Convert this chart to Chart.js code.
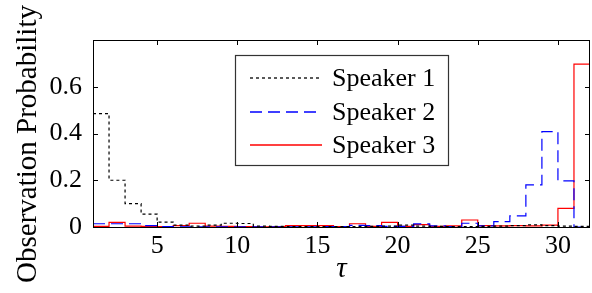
<!DOCTYPE html>
<html lang="en">
<head>
    <meta charset="UTF-8" />
    <title>Observation Probability</title>
    <script src="https://cdn.jsdelivr.net/npm/chart.js"></script>
    <style>
        body { margin: 0; background: #fff; }
        canvas { display: block; }
    </style>
</head>
<body>
    <canvas id="probChart" width="592" height="293"></canvas>

    <script>
        // tau values (bin starts), last entry closes the final step
        const tau = [1, 2, 3, 4, 5, 6, 7, 8, 9, 10, 11, 12, 13, 14, 15, 16,
                     17, 18, 19, 20, 21, 22, 23, 24, 25, 26, 27, 28, 29, 30, 31, 32];
        const speaker1 = [0.485, 0.200, 0.100, 0.055, 0.021, 0.008, 0.004, 0.008, 0.016, 0.015, 0.004,
                          0.003, 0.002, 0.002, 0.002, 0.002, 0.002, 0.003, 0.004, 0.008, 0.004,
                          0.003, 0.002, 0.002, 0.003, 0.004, 0.006, 0.009, 0.006, 0.004, 0.003, 0.003];
        const speaker2 = [0.014, 0.014, 0.014, 0.006, 0.002, 0.001, 0.001, 0.001, 0.001, 0.001, 0.001,
                          0.001, 0.001, 0.001, 0.002, 0.002, 0.007, 0.006, 0.003, 0.003, 0.013,
                          0.005, 0.002, 0.016, 0.005, 0.023, 0.048, 0.180, 0.408, 0.197, 0.000, 0.000];
        const speaker3 = [0.003, 0.020, 0.004, 0.003, 0.002, 0.006, 0.016, 0.004, 0.003, 0.002, 0.001,
                          0.002, 0.006, 0.006, 0.006, 0.002, 0.014, 0.003, 0.020, 0.003, 0.010,
                          0.003, 0.005, 0.030, 0.006, 0.005, 0.006, 0.005, 0.008, 0.080, 0.697, 0.697];
        const seriesNames = ['Speaker 1', 'Speaker 2', 'Speaker 3'];
        const xTicks = [5, 10, 15, 20, 25, 30];
        const yTicks = [0, 0.2, 0.4, 0.6];

        const colors = ['#000000', '#0000ff', '#ff0000'];
        const dashes = [[3, 3], [12, 6], []];
        const serif = '"Liberation Serif", "Times New Roman", Times, serif';

        function toPoints(values) {
            return tau.map((t, i) => ({ x: t, y: values[i] }));
        }

        // MATLAB-like frame with inward ticks on all four sides + y label
        const framePlugin = {
            id: 'frame',
            afterDatasetsDraw(chart) {
                const { ctx, chartArea: a, scales } = chart;
                const len = 5;
                ctx.save();
                ctx.strokeStyle = '#000';
                ctx.lineWidth = 1;
                ctx.beginPath();
                xTicks.forEach(v => {
                    const px = Math.round(scales.x.getPixelForValue(v)) + 0.5;
                    ctx.moveTo(px, a.bottom); ctx.lineTo(px, a.bottom - len);
                    ctx.moveTo(px, a.top); ctx.lineTo(px, a.top + len);
                });
                yTicks.forEach(v => {
                    const py = Math.round(scales.y.getPixelForValue(v)) + 0.5;
                    ctx.moveTo(a.left, py); ctx.lineTo(a.left + len, py);
                    ctx.moveTo(a.right, py); ctx.lineTo(a.right - len, py);
                });
                ctx.stroke();
                ctx.strokeRect(Math.round(a.left) + 0.5, Math.round(a.top) + 0.5,
                               Math.round(a.right - a.left) - 1, Math.round(a.bottom - a.top));

                // y axis label, a bit below the plot centre like the original
                ctx.translate(28, 144);
                ctx.rotate(-Math.PI / 2);
                ctx.font = '29px ' + serif;
                ctx.fillStyle = '#000';
                ctx.textAlign = 'center';
                ctx.textBaseline = 'middle';
                ctx.fillText('Observation Probability', 0, 0);
                ctx.restore();
            }
        };

        // boxed legend inside the plot
        const boxLegend = {
            id: 'boxLegend',
            afterDraw(chart) {
                const { ctx, chartArea: a } = chart;
                const bx = a.left + 142, by = a.top + 15, bw = 213, bh = 110;
                ctx.save();
                ctx.fillStyle = '#fff';
                ctx.fillRect(bx, by, bw, bh);
                ctx.strokeStyle = '#333';
                ctx.lineWidth = 1.2;
                ctx.strokeRect(bx + 0.5, by + 0.5, bw, bh);
                ctx.font = '26px ' + serif;
                ctx.textBaseline = 'middle';
                ctx.lineWidth = 1.3;
                seriesNames.forEach((name, i) => {
                    const y = Math.round(by + 23 + i * 33.5);
                    ctx.setLineDash(dashes[i]);
                    ctx.strokeStyle = colors[i];
                    ctx.beginPath();
                    ctx.moveTo(bx + 15, y);
                    ctx.lineTo(bx + 87, y);
                    ctx.stroke();
                    ctx.setLineDash([]);
                    ctx.fillStyle = '#000';
                    ctx.fillText(name, bx + 97, y + 1);
                });
                ctx.restore();
            }
        };

        const ctx = document.getElementById('probChart').getContext('2d');
        const probChart = new Chart(ctx, {
            type: 'line',
            data: {
                datasets: [speaker1, speaker2, speaker3].map((vals, i) => ({
                    label: seriesNames[i],
                    data: toPoints(vals),
                    borderColor: colors[i],
                    borderDash: dashes[i]
                }))
            },
            options: {
                responsive: false,
                animation: false,
                layout: { padding: { left: 0, right: 2, top: 40, bottom: 0 } },
                elements: {
                    line: { borderWidth: 1.2, stepped: true, fill: false },
                    point: { radius: 0 }
                },
                plugins: {
                    legend: { display: false },
                    tooltip: { enabled: false }
                },
                scales: {
                    x: {
                        type: 'linear',
                        min: 1,
                        max: 32,
                        grid: { display: false, drawTicks: false },
                        border: { display: false },
                        afterBuildTicks: s => { s.ticks = xTicks.map(v => ({ value: v })); },
                        afterFit: s => { s.height = 66; },
                        ticks: {
                            padding: 4,
                            color: '#000',
                            maxRotation: 0,
                            font: { family: serif, size: 26 }
                        },
                        title: {
                            display: true,
                            text: 'τ',
                            color: '#000',
                            padding: { top: 0, bottom: 9 },
                            font: { family: serif, size: 29, style: 'italic', lineHeight: 1 }
                        }
                    },
                    y: {
                        min: 0,
                        max: 0.8,
                        grid: { display: false, drawTicks: false },
                        border: { display: false },
                        afterBuildTicks: s => { s.ticks = yTicks.map(v => ({ value: v })); },
                        afterFit: s => { s.width = 93; },
                        ticks: {
                            padding: 11,
                            color: '#000',
                            font: { family: serif, size: 26 },
                            callback: v => String(v)
                        }
                    }
                }
            },
            plugins: [framePlugin, boxLegend]
        });
    </script>
</body>
</html>
